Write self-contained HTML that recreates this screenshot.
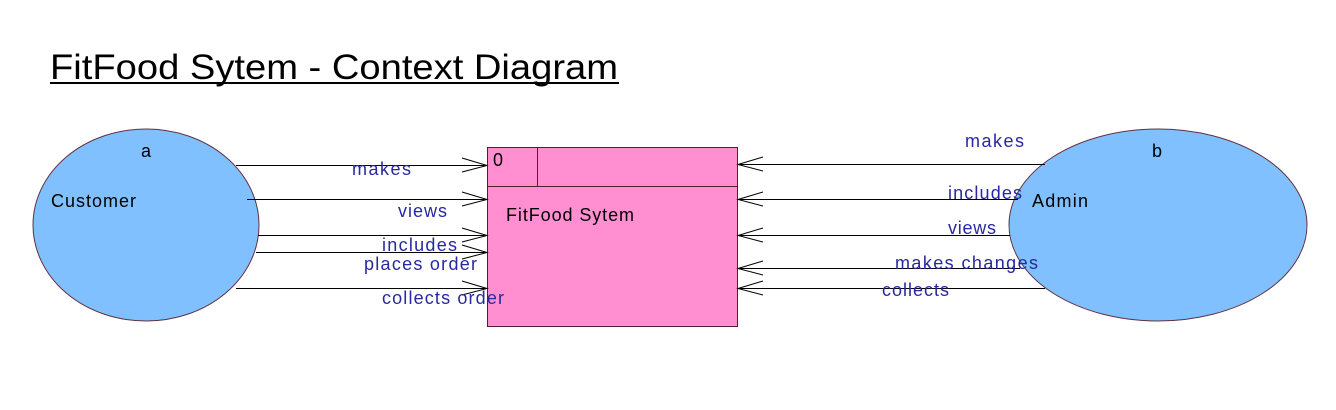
<!DOCTYPE html>
<html><head><meta charset="utf-8"><style>html,body{margin:0;padding:0;background:#fff}svg{display:block}</style></head>
<body>
<svg width="1336" height="410" xmlns="http://www.w3.org/2000/svg" font-family="Liberation Sans, Arial, sans-serif">
<text x="50" y="79" font-size="35" textLength="568" lengthAdjust="spacingAndGlyphs" fill="#000">FitFood Sytem - Context Diagram</text>
<rect x="50" y="82" width="569" height="2" fill="#000"/>
<ellipse cx="146" cy="225" rx="113" ry="96" fill="#80c0ff" stroke="#603040" stroke-width="1"/>
<ellipse cx="1158" cy="225" rx="149" ry="96" fill="#80c0ff" stroke="#603040" stroke-width="1"/>
<rect x="487.5" y="147.5" width="250" height="179" fill="#ff8fd0" stroke="#502030"/>
<line x1="487" y1="186.5" x2="737" y2="186.5" stroke="#502030"/>
<line x1="537.5" y1="147" x2="537.5" y2="186" stroke="#502030"/>
<g stroke="#000" stroke-width="1" fill="none">
<path d="M236 165.5H487M462 158L487 165.5L462 172"/>
<path d="M247 199.5H487M462 192L487 199.5L462 206"/>
<path d="M258 235.5H487M462 228L487 235.5L462 242"/>
<path d="M256 252.5H487M462 245L487 252.5L462 259"/>
<path d="M236 288.5H487M462 281L487 288.5L462 295"/>
<path d="M1045 164.5H738M763 157L738 164.5L763 171"/>
<path d="M1018 199.5H738M763 192L738 199.5L763 206"/>
<path d="M1010 235.5H738M763 228L738 235.5L763 242"/>
<path d="M1020 268.5H738M763 261L738 268.5L763 275"/>
<path d="M1045 288.5H738M763 281L738 288.5L763 295"/>
</g>
<g font-size="18" fill="#000" lengthAdjust="spacingAndGlyphs">
<text x="141" y="157">a</text>
<text x="51" y="207" textLength="85">Customer</text>
<text x="1152" y="157">b</text>
<text x="1032" y="207" textLength="56">Admin</text>
<text x="493" y="166">0</text>
<text x="506" y="221" textLength="128">FitFood Sytem</text>
</g>
<g font-size="18" fill="#2828a0">
<text x="352" y="175" textLength="59">makes</text>
<text x="398" y="217" textLength="49">views</text>
<text x="382" y="251" textLength="75">includes</text>
<text x="364" y="270" textLength="113">places order</text>
<text x="382" y="304" textLength="122">collects order</text>
<text x="965" y="147" textLength="59">makes</text>
<text x="948" y="199" textLength="74">includes</text>
<text x="948" y="234" textLength="48">views</text>
<text x="895" y="269" textLength="143">makes changes</text>
<text x="882" y="296" textLength="67">collects</text>
</g>
</svg>
</body></html>
